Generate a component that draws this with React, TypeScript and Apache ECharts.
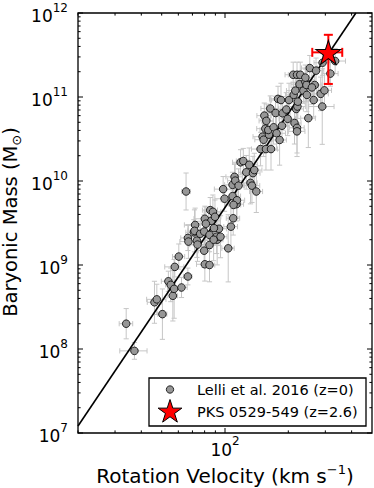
import React, { useEffect, useRef } from "react";
import * as echarts from "echarts";

// Lelli et al. 2016 galaxies: rotation velocity (km/s), baryonic mass (Msun)
const velocity = [
  33.9, 37.1, 46.2, 47.4, 50.4, 53.8, 55.2, 56.5, 57.3, 57.7,
  60.3, 62.1, 66.6, 65.3, 66.6, 67.0, 71.1, 72.1, 71.6, 73.5,
  74.0, 76.2, 79.6, 80.2, 80.2, 79.6, 84.4, 84.4, 84.4, 86.0,
  85.1, 87.6, 89.6, 91.8, 91.2, 93.6, 95.2, 98.0, 99.5, 103.6,
  106.7, 109.4, 108.6, 108.6, 111.0, 111.9, 113.5, 114.0, 116.0, 118.6,
  122.2, 126.2, 130.4, 132.2, 134.3, 135.8, 137.8, 140.9, 147.6, 150.9,
  153.8, 155.5, 157.2, 152.6, 156.6, 161.8, 164.2, 165.5, 160.6, 170.2,
  174.0, 175.9, 178.7, 181.8, 184.6, 186.6, 187.9, 198.6, 195.6, 201.6,
  212, 216, 211, 220, 228, 218, 221, 214, 220, 220,
  222, 226, 236, 241, 244, 245, 253, 249, 264, 267,
  271, 285, 291, 290, 297, 317, 334, 259, 241, 109.8,
  81.1, 88.6, 88.3,
];
const baryonicMass = [
  2.0e8, 9.5e7, 3.6e8, 3.9e8, 2.6e8, 6.4e8, 5.8e8, 4.3e8, 5.2e8, 9.5e8,
  1.26e9, 5.4e8, 7.3e8, 7.5e9, 2.1e9, 1.9e9, 2.45e9, 3.0e9, 2.55e9, 1.95e9,
  1.75e9, 2.35e9, 1.48e9, 1.02e9, 3.55e9, 2.5e9, 1.0e9, 1.73e9, 2.28e9, 3.35e9,
  4.5e9, 4.3e9, 3.75e9, 2.0e9, 2.17e9, 2.7e9, 2.17e9, 8.0e9, 6.15e9, 1.58e9,
  2.86e9, 3.6e9, 6.6e9, 9.0e9, 1.12e10, 1.01e10, 5.3e9, 5.9e9, 8.8e9, 1.67e10,
  1.73e10, 1.27e10, 1.56e10, 9.5e9, 8.8e9, 1.24e10, 1.35e10, 7.5e9, 2.4e10, 3.37e10,
  6.0e10, 4.2e10, 5.2e10, 3.1e10, 2.4e10, 3.56e10, 7.3e10, 2.4e10, 4.05e10, 4.36e10,
  6.45e10, 3.7e10, 9.5e10, 3.08e10, 9.2e10, 4.55e10, 6.4e10, 5.5e10, 7.1e10, 9.2e10,
  1.06e11, 1.19e11, 1.84e11, 1.84e11, 1.84e11, 7.2e10, 7.7e10, 4.9e10, 4.3e10, 3.9e10,
  8.8e10, 1.42e11, 1.19e11, 1.52e11, 1.39e11, 1.06e11, 2.21e11, 5.6e10, 9.2e10, 1.39e11,
  2.06e11, 1.09e11, 2.56e11, 7.7e10, 1.2e11, 1.9e11, 2.68e11, 1.3e11, 1.7e11, 5.2e9,
  3.1e9, 2.75e9, 2.0e9,
];
// symmetric velocity error (km/s)
const velocityError = [
  2.5, 5.5, 3.5, 5, 2.5, 4, 3, 3, 4, 6,
  4, 4, 3, 3, 5, 6, 6, 8, 5, 7,
  6, 6, 5, 7, 9, 6, 5, 7, 6, 9,
  7, 8, 6, 6, 7, 8, 7, 9, 10, 7,
  8, 8, 10, 9, 10, 9, 9, 10, 8, 10,
  9, 10, 12, 10, 12, 11, 12, 10, 14, 15,
  12, 14, 12, 14, 12, 15, 16, 12, 14, 16,
  15, 18, 16, 14, 18, 15, 16, 18, 16, 18,
  18, 20, 18, 20, 16, 18, 20, 16, 18, 20,
  18, 20, 20, 22, 20, 18, 22, 20, 22, 22,
  24, 25, 26, 40, 24, 28, 40, 20, 18, 9,
  7, 7, 8,
];
// symmetric baryonic-mass error (dex)
const massErrorDex = [
  0.18, 0.1, 0.25, 0.18, 0.3, 0.12, 0.2, 0.3, 0.35, 0.12,
  0.15, 0.12, 0.1, 0.22, 0.15, 0.2, 0.15, 0.2, 0.25, 0.2,
  0.2, 0.15, 0.2, 0.2, 0.15, 0.2, 0.2, 0.25, 0.2, 0.15,
  0.15, 0.2, 0.2, 0.3, 0.2, 0.2, 0.25, 0.15, 0.15, 0.4,
  0.25, 0.2, 0.15, 0.15, 0.15, 0.2, 0.2, 0.2, 0.2, 0.15,
  0.15, 0.2, 0.2, 0.25, 0.2, 0.2, 0.2, 0.25, 0.2, 0.2,
  0.15, 0.2, 0.2, 0.2, 0.25, 0.2, 0.15, 0.25, 0.2, 0.2,
  0.2, 0.2, 0.15, 0.3, 0.2, 0.2, 0.2, 0.2, 0.2, 0.2,
  0.15, 0.15, 0.15, 0.15, 0.15, 0.2, 0.2, 0.25, 0.3, 0.3,
  0.2, 0.15, 0.15, 0.15, 0.2, 0.2, 0.15, 0.35, 0.2, 0.2,
  0.15, 0.2, 0.15, 0.45, 0.2, 0.15, 0.15, 0.2, 0.15, 0.2,
  0.2, 0.2, 0.25,
];

// PKS 0529-549 (z=2.6)
const pksPoint = [310, 3.4e11];
const pksVelocityRange = [260, 361];
const pksMassRange = [1.43e11, 5.5e11];

// BTFR line endpoints
const btfrLine = [
  [20, 1.21e7],
  [419, 1e12],
];

const xRange = [20, 500];
const yRange = [1e7, 1e12];
const xMajorTickValues = [100];
const xMinorTickValues = [20, 30, 40, 50, 60, 70, 80, 90, 200, 300, 400];
const yMajorTickValues = [1e7, 1e8, 1e9, 1e10, 1e11, 1e12];
const yMinorTickValues: number[] = [];
for (let e = 7; e < 12; e++) for (let k = 2; k <= 9; k++) yMinorTickValues.push(k * Math.pow(10, e));

const legendLabels = ["Lelli et al. 2016 (z=0)", "PKS 0529-549 (z=2.6)"];
const xTitle = "{a|Rotation Velocity (km s}{s|\u22121}{a|)}";
const yTitle = "{a|Baryonic Mass (M}{u|\u2299}{a|)}";

const FONT = "DejaVu Sans";
const STAR =
  "path://M0,-100L22.45,-30.9L95.1,-30.9L36.3,11.8L58.8,80.9L0,38.2L-58.8,80.9L-36.3,11.8L-95.1,-30.9L-22.45,-30.9Z";

function starPoints(cx: number, cy: number, R: number) {
  const pts: number[][] = [];
  for (let i = 0; i < 10; i++) {
    const r = i % 2 === 0 ? R : R * 0.382;
    const a = (-90 + i * 36) * (Math.PI / 180);
    pts.push([cx + r * Math.cos(a), cy + r * Math.sin(a)]);
  }
  return pts;
}

function isPow10(v: number) {
  const l = Math.log10(v);
  return Math.abs(l - Math.round(l)) < 1e-6;
}

const supRich = {
  b: { fontSize: 17, fontFamily: FONT, color: "#000", padding: [6, 0, 0, 0], verticalAlign: "bottom" },
  s: { fontSize: 12, fontFamily: FONT, color: "#000", verticalAlign: "top" },
};

export default function App() {
  const ref = useRef<HTMLDivElement>(null);
  useEffect(() => {
    if (!ref.current) return;
    const chart = echarts.init(ref.current, undefined, { renderer: "svg" });

    const tickStyle = { stroke: "#000", lineWidth: 1 };
    const xTickData = [
      ...xMajorTickValues.map((v) => [v, yRange[0], 1]),
      ...xMinorTickValues.map((v) => [v, yRange[0], 0]),
    ];
    const yTickData = [
      ...yMajorTickValues.map((v) => [xRange[0], v, 1]),
      ...yMinorTickValues.map((v) => [xRange[0], v, 0]),
    ];

    const option: any = {
      animation: false,
      backgroundColor: "#fff",
      grid: {
        left: 78,
        right: 2,
        top: 13,
        bottom: 55,
        show: true,
        containLabel: false,
        outerBoundsMode: "none",
        borderColor: "#000",
        borderWidth: 1.3,
        backgroundColor: "transparent",
      },
      xAxis: {
        type: "log",
        logBase: 10,
        min: xRange[0],
        max: xRange[1],
        axisLine: { show: false },
        axisTick: { show: false },
        splitLine: { show: false },
        axisLabel: {
          margin: 2,
          formatter: (v: number) => (isPow10(v) ? `{b|10}{s|${Math.round(Math.log10(v))}}` : ""),
          rich: supRich,
          showMinLabel: true,
          showMaxLabel: true,
        },
      },
      yAxis: {
        type: "log",
        logBase: 10,
        min: yRange[0],
        max: yRange[1],
        axisLine: { show: false },
        axisTick: { show: false },
        splitLine: { show: false },
        axisLabel: {
          margin: 10,
          formatter: (v: number) => (isPow10(v) ? `{b|10}{s|${Math.round(Math.log10(v))}}` : ""),
          rich: supRich,
        },
      },
      series: [
        {
          type: "custom",
          name: "errorbars",
          silent: true,
          z: 2,
          clip: true,
          encode: { x: 0, y: 1 },
          data: velocity.map((v, i) => [v, baryonicMass[i], velocityError[i], massErrorDex[i]]),
          renderItem: (params: any, api: any) => {
            const x = api.value(0);
            const y = api.value(1);
            const dx = api.value(2);
            const dd = api.value(3);
            const l = api.coord([x - dx, y]);
            const r = api.coord([x + dx, y]);
            const t = api.coord([x, y * Math.pow(10, dd)]);
            const b = api.coord([x, y / Math.pow(10, dd)]);
            const cap = 2.6;
            const st = { stroke: "#c6c6c6", lineWidth: 1 };
            return {
              type: "group",
              children: [
                { type: "line", shape: { x1: l[0], y1: l[1], x2: r[0], y2: r[1] }, style: st },
                { type: "line", shape: { x1: t[0], y1: t[1], x2: b[0], y2: b[1] }, style: st },
                { type: "line", shape: { x1: l[0], y1: l[1] - cap, x2: l[0], y2: l[1] + cap }, style: st },
                { type: "line", shape: { x1: r[0], y1: r[1] - cap, x2: r[0], y2: r[1] + cap }, style: st },
                { type: "line", shape: { x1: t[0] - cap, y1: t[1], x2: t[0] + cap, y2: t[1] }, style: st },
                { type: "line", shape: { x1: b[0] - cap, y1: b[1], x2: b[0] + cap, y2: b[1] }, style: st },
              ],
            };
          },
        },
        {
          type: "line",
          name: "btfr",
          silent: true,
          z: 3,
          data: btfrLine,
          showSymbol: false,
          symbol: "none",
          lineStyle: { color: "#000", width: 1.6 },
        },
        {
          type: "scatter",
          name: legendLabels[0],
          z: 4,
          data: velocity.map((v, i) => [v, baryonicMass[i]]),
          symbol: "circle",
          symbolSize: 7.6,
          itemStyle: { color: "#979797", borderColor: "#000", borderWidth: 0.8, opacity: 1 },
        },
        {
          type: "custom",
          name: "pks-errorbar",
          silent: true,
          z: 5,
          encode: { x: 0, y: 1 },
          data: [[pksPoint[0], pksPoint[1], pksVelocityRange[0], pksVelocityRange[1], pksMassRange[0], pksMassRange[1]]],
          renderItem: (params: any, api: any) => {
            const x = api.value(0);
            const y = api.value(1);
            const l = api.coord([api.value(2), y]);
            const r = api.coord([api.value(3), y]);
            const b = api.coord([x, api.value(4)]);
            const t = api.coord([x, api.value(5)]);
            const cap = 4.5;
            const st = { stroke: "#ff0000", lineWidth: 2 };
            return {
              type: "group",
              children: [
                { type: "line", shape: { x1: l[0], y1: l[1], x2: r[0], y2: r[1] }, style: st },
                { type: "line", shape: { x1: t[0], y1: t[1], x2: b[0], y2: b[1] }, style: st },
                { type: "line", shape: { x1: l[0], y1: l[1] - cap, x2: l[0], y2: l[1] + cap }, style: st },
                { type: "line", shape: { x1: r[0], y1: r[1] - cap, x2: r[0], y2: r[1] + cap }, style: st },
                { type: "line", shape: { x1: t[0] - cap, y1: t[1], x2: t[0] + cap, y2: t[1] }, style: st },
                { type: "line", shape: { x1: b[0] - cap, y1: b[1], x2: b[0] + cap, y2: b[1] }, style: st },
              ],
            };
          },
        },
        {
          type: "scatter",
          name: legendLabels[1],
          z: 6,
          data: [pksPoint],
          symbol: STAR,
          symbolSize: [25, 24],
          itemStyle: { color: "#ff0000", borderColor: "#000", borderWidth: 1, opacity: 1 },
        },
        {
          type: "custom",
          name: "xticks",
          silent: true,
          z: 7,
          encode: { x: 0, y: 1 },
          data: xTickData,
          renderItem: (params: any, api: any) => {
            const v = api.value(0);
            const len = api.value(2) === 1 ? 5 : 2.6;
            const a = api.coord([v, yRange[0]]);
            const b = api.coord([v, yRange[1]]);
            return {
              type: "group",
              children: [
                { type: "line", shape: { x1: a[0], y1: a[1], x2: a[0], y2: a[1] - len }, style: tickStyle },
                { type: "line", shape: { x1: b[0], y1: b[1], x2: b[0], y2: b[1] + len }, style: tickStyle },
              ],
            };
          },
        },
        {
          type: "custom",
          name: "yticks",
          silent: true,
          z: 7,
          encode: { x: 0, y: 1 },
          data: yTickData,
          renderItem: (params: any, api: any) => {
            const v = api.value(1);
            const len = api.value(2) === 1 ? 5 : 2.6;
            const a = api.coord([xRange[0], v]);
            const b = api.coord([xRange[1], v]);
            return {
              type: "group",
              children: [
                { type: "line", shape: { x1: a[0], y1: a[1], x2: a[0] + len, y2: a[1] }, style: tickStyle },
                { type: "line", shape: { x1: b[0], y1: b[1], x2: b[0] - len, y2: b[1] }, style: tickStyle },
              ],
            };
          },
        },
      ],
      graphic: [
        {
          type: "text",
          x: 225,
          y: 474.5,
          style: {
            text: xTitle,
            align: "center",
            verticalAlign: "middle",
            rich: {
              a: { fontSize: 20, lineHeight: 23, fontFamily: FONT, fill: "#000", verticalAlign: "bottom" },
              s: { fontSize: 13, lineHeight: 13, fontFamily: FONT, fill: "#000", verticalAlign: "top" },
            },
          },
        },
        {
          type: "text",
          x: 11.5,
          y: 222,
          rotation: Math.PI / 2,
          style: {
            text: yTitle,
            align: "center",
            verticalAlign: "middle",
            rich: {
              a: { fontSize: 19.5, lineHeight: 22, fontFamily: FONT, fill: "#000", verticalAlign: "top" },
              u: { fontSize: 13, lineHeight: 13, fontFamily: FONT, fill: "#000", verticalAlign: "bottom" },
            },
          },
        },
        {
          type: "group",
          z: 100,
          children: [
            {
              type: "rect",
              shape: { x: 149, y: 378, width: 217, height: 48 },
              style: { fill: "#fff", stroke: "#000", lineWidth: 1.3 },
            },
            {
              type: "circle",
              shape: { cx: 170, cy: 389.5, r: 3.7 },
              style: { fill: "#979797", stroke: "#000", lineWidth: 0.8 },
            },
            {
              type: "polygon",
              shape: { points: starPoints(170, 412, 12.5) },
              style: { fill: "#ff0000", stroke: "#000", lineWidth: 1 },
            },
            {
              type: "text",
              x: 197,
              y: 389.5,
              style: { text: legendLabels[0], fontSize: 14.5, fontFamily: FONT, fill: "#000", verticalAlign: "middle", align: "left" },
            },
            {
              type: "text",
              x: 197,
              y: 411.5,
              style: { text: legendLabels[1], fontSize: 14.5, fontFamily: FONT, fill: "#000", verticalAlign: "middle", align: "left" },
            },
          ],
        },
      ],
    };
    chart.setOption(option);
    return () => chart.dispose();
  }, []);
  return (
    <div
      ref={ref}
      style={{ position: "fixed", left: 0, top: 0, width: 374, height: 488, background: "#fff" }}
    />
  );
}
